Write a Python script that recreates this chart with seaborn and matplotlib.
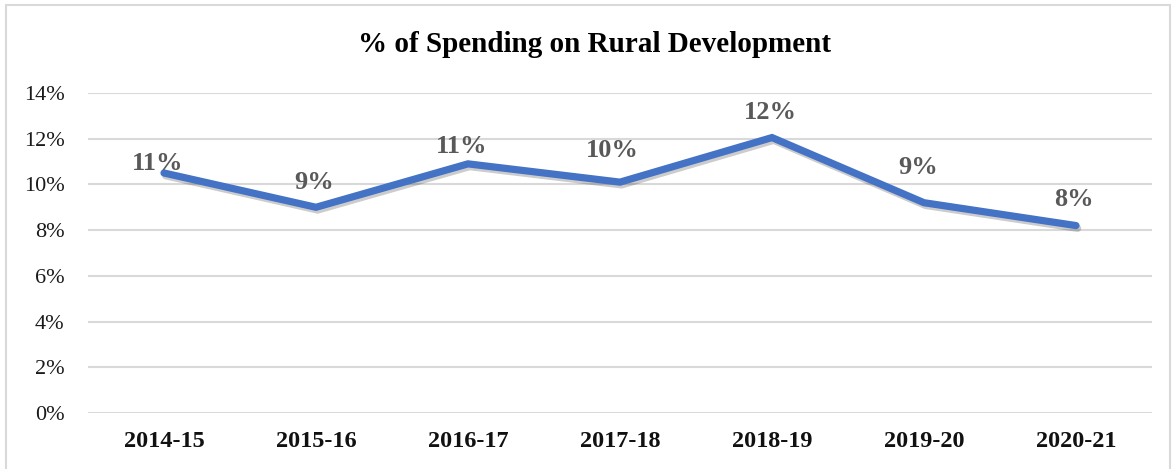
import matplotlib
matplotlib.use("Agg")
import matplotlib.pyplot as plt
import matplotlib.patheffects as pe
from matplotlib.patches import Rectangle
import seaborn as sns
import pandas as pd

years = ["2014-15", "2015-16", "2016-17", "2017-18", "2018-19", "2019-20", "2020-21"]
share = [0.105, 0.090, 0.109, 0.101, 0.1205, 0.092, 0.082]
labels = ["11%", "9%", "11%", "10%", "12%", "9%", "8%"]
yticks = [0, 0.02, 0.04, 0.06, 0.08, 0.10, 0.12, 0.14]
ytick_labels = ["0%", "2%", "4%", "6%", "8%", "10%", "12%", "14%"]

# label centre offsets (pixels) relative to each point
label_dx = [-6, -2, -6, -8, -2, -6, -2]
label_dy = [10, 25, 17, 32, 25, 35, 26]

sns.set_theme(style="white")
plt.rcParams['font.family'] = ['Liberation Serif', 'DejaVu Serif']

df = pd.DataFrame({"year": years, "share": share})

fig = plt.figure(figsize=(11.75, 4.69), dpi=100)
ax = fig.add_axes([88/1175, 1-413/469, (1152-88)/1175, (413-93)/469])

line_col = "#4472C4"
sns.lineplot(data=df, x="year", y="share", ax=ax, color=line_col, linewidth=5.2,
             sort=False, solid_capstyle="round", solid_joinstyle="miter",
             path_effects=[pe.SimpleLineShadow(offset=(1.2, -2.0), shadow_color="#000000", alpha=0.2),
                           pe.Normal()])

ax.set_xlim(-0.5, len(years) - 0.5)
ax.set_ylim(0, 0.14)
ax.set_yticks(yticks)
ax.set_yticklabels(ytick_labels, fontsize=16, color="#1a1a1a")
ax.set_xticks(range(len(years)))
ax.set_xticklabels(years, fontsize=17.5, fontweight="bold", color="#111111")
ax.tick_params(axis="x", length=0, pad=13)
ax.tick_params(axis="y", length=0, pad=17)
ax.set_xlabel("")
ax.set_ylabel("")
ax.grid(axis="y", color="#d9d9d9", linewidth=1.5)
ax.set_axisbelow(True)
for s in ax.spines.values():
    s.set_visible(False)

for i, (v, t) in enumerate(zip(share, labels)):
    ax.annotate(t, (i, v), xytext=(label_dx[i] * 0.72, label_dy[i] * 0.72),
                textcoords="offset points", ha="center", va="center",
                fontsize=19, fontweight="bold", color="#595959")

fig.text(595/1175, 1-44/469, "% of Spending on Rural Development", ha="center", va="center",
         fontsize=21, fontweight="bold", color="#000000")

fig.patches.append(Rectangle((6/1175, -0.01), (1170-6)/1175, 1-5/469 + 0.01,
                             transform=fig.transFigure, fill=False,
                             edgecolor="#d9d9d9", linewidth=1.5))

fig.savefig("out.png", dpi=100, facecolor="white")
